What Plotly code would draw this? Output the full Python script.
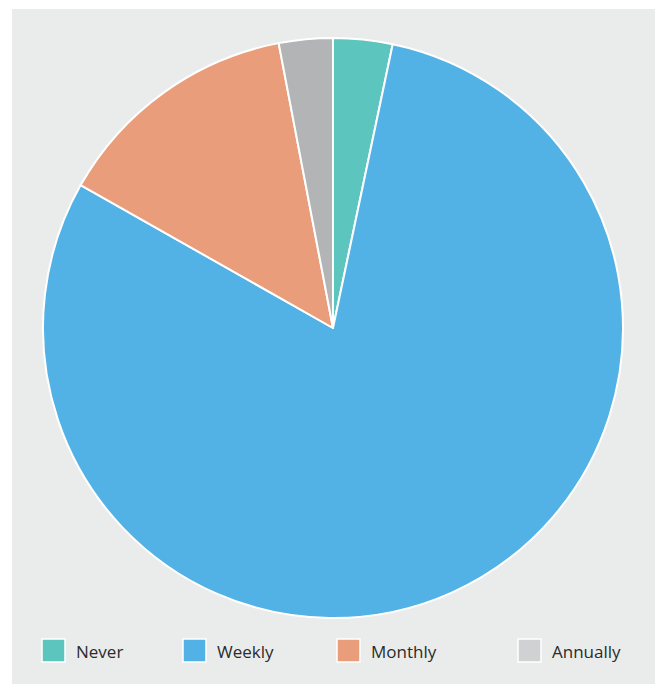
import plotly.graph_objects as go

categories = ["Never", "Weekly", "Monthly", "Annually"]
values = [3.3, 79.9, 13.8, 3.0]
slice_colors = ["#5cc5bd", "#52b2e6", "#e99d7a", "#b3b4b6"]
legend_colors = ["#5cc5bd", "#52b2e6", "#e99d7a", "#d0d1d3"]

W, H = 660, 684

fig = go.Figure(go.Pie(
    labels=categories,
    values=values,
    sort=False,
    direction="clockwise",
    rotation=0,
    marker=dict(colors=slice_colors, line=dict(color="white", width=2)),
    textinfo="none",
    hoverinfo="label+percent",
    showlegend=False,
    domain=dict(x=[43 / W, 623 / W], y=[1 - 618 / H, 1 - 38 / H]),
))

# background panel
fig.add_shape(type="rect", xref="paper", yref="paper",
              x0=12 / W, x1=655 / W, y0=0, y1=1 - 9 / H,
              fillcolor="#eaebeb", line=dict(width=0), layer="below")

# custom legend
legend_x = [42, 183, 337, 518]
sq = 23
y_top = 639
for cat, col, lx in zip(categories, legend_colors, legend_x):
    fig.add_shape(type="rect", xref="paper", yref="paper",
                  x0=lx / W, x1=(lx + sq) / W,
                  y0=1 - (y_top + sq) / H, y1=1 - y_top / H,
                  fillcolor=col, line=dict(color="white", width=1.5))
    fig.add_annotation(xref="paper", yref="paper",
                       x=(lx + sq + 9) / W, y=1 - (y_top + sq / 2 + 1) / H,
                       text=cat, showarrow=False, xanchor="left", yanchor="middle",
                       font=dict(family="Open Sans", size=17, color="#2b2b2b"))

fig.update_layout(
    width=W, height=H,
    margin=dict(l=0, r=0, t=0, b=0),
    paper_bgcolor="white",
    plot_bgcolor="white",
)

fig.write_html("out.html",
               config={"displayModeBar": False},
               post_script="document.body.style.margin='0';document.body.style.overflow='hidden';")
